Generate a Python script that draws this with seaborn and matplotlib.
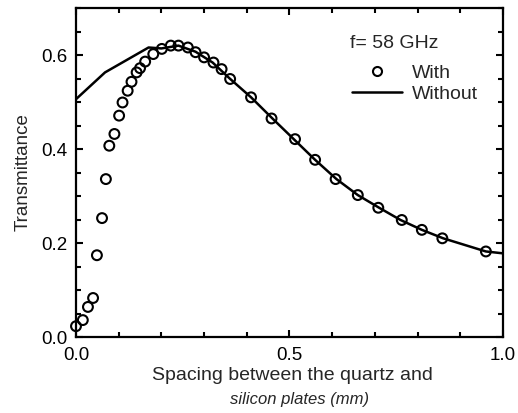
import numpy as np
import pandas as pd
import seaborn as sns
import matplotlib.pyplot as plt
from matplotlib.ticker import MultipleLocator
from matplotlib.lines import Line2D

# Data
with_x = [0.0, 0.016, 0.028, 0.04, 0.049, 0.061, 0.07, 0.078, 0.09, 0.101,
          0.109, 0.121, 0.13, 0.142, 0.15, 0.162, 0.181, 0.201, 0.222, 0.24,
          0.262, 0.28, 0.30, 0.322, 0.341, 0.361, 0.41, 0.458, 0.513, 0.56,
          0.608, 0.66, 0.708, 0.763, 0.81, 0.858, 0.96]
with_y = [0.023, 0.036, 0.064, 0.083, 0.174, 0.253, 0.336, 0.407, 0.432, 0.471,
          0.499, 0.524, 0.543, 0.563, 0.572, 0.586, 0.602, 0.613, 0.62, 0.62,
          0.616, 0.606, 0.595, 0.584, 0.57, 0.549, 0.51, 0.465, 0.421, 0.377,
          0.336, 0.302, 0.275, 0.249, 0.228, 0.21, 0.182]

without_x = [0.0, 0.068, 0.17, 0.20, 0.24, 0.28, 0.32, 0.36, 0.41, 0.46,
             0.51, 0.56, 0.61, 0.66, 0.71, 0.76, 0.81, 0.86, 0.96, 1.0]
without_y = [0.506, 0.563, 0.616, 0.614, 0.62, 0.607, 0.584, 0.55, 0.51, 0.465,
             0.421, 0.377, 0.336, 0.302, 0.275, 0.249, 0.228, 0.21, 0.182, 0.178]

df_with = pd.DataFrame({"x": with_x, "y": with_y})
df_without = pd.DataFrame({"x": without_x, "y": without_y})

sns.set_style("ticks")
plt.rcParams["font.family"] = ["Liberation Sans", "DejaVu Sans"]

fig = plt.figure(figsize=(5.18, 4.13), dpi=100)
ax = fig.add_axes([0.1467, 0.184, 0.8243, 0.7966])

sns.lineplot(data=df_without, x="x", y="y", ax=ax, color="black",
             linewidth=1.8, sort=False)
sns.scatterplot(data=df_with, x="x", y="y", ax=ax, marker="o",
                facecolor="none", edgecolor="black", linewidth=1.5, s=50,
                clip_on=False, zorder=3)

ax.set_xlim(0, 1.0)
ax.set_ylim(0, 0.7)
ax.xaxis.set_major_locator(MultipleLocator(0.5))
ax.xaxis.set_minor_locator(MultipleLocator(0.1))
ax.yaxis.set_major_locator(MultipleLocator(0.2))
ax.yaxis.set_minor_locator(MultipleLocator(0.05))
ax.xaxis.set_major_formatter(lambda v, p: f"{v:.1f}")
ax.yaxis.set_major_formatter(lambda v, p: f"{v:.1f}")

ax.tick_params(which="both", direction="in", top=True, right=True,
               width=1.5, colors="black", labelsize=13.5)
ax.tick_params(which="major", length=5)
ax.tick_params(which="minor", length=3.5)
ax.tick_params(axis="x", pad=7.5)
ax.tick_params(axis="y", pad=6)
for s in ax.spines.values():
    s.set_linewidth(1.6)
    s.set_color("black")

ax.set_xlabel("Spacing between the quartz and", fontsize=14)
ax.xaxis.set_label_coords(0.507, -0.09)
fig.text(0.579, 0.022, "silicon plates (mm)",
         fontsize=12, style="italic", ha="center", va="baseline")
ax.set_ylabel("Transmittance", fontsize=13.5)
ax.yaxis.set_label_coords(-0.103, 0.5)

ax.text(0.642, 0.891, "f= 58 GHz", transform=ax.transAxes, fontsize=14,
        ha="left", va="center")
handles = [
    Line2D([], [], marker="o", linestyle="none", markerfacecolor="none",
           markeredgecolor="black", markeredgewidth=1.5, markersize=6.5),
    Line2D([], [], color="black", linewidth=1.8),
]
ax.legend(handles, ["With", "Without"], loc="upper left",
          bbox_to_anchor=(0.646, 0.83), frameon=False, fontsize=14,
          handlelength=2.6, handletextpad=0.5, labelspacing=0.2,
          borderpad=0, borderaxespad=0)

plt.savefig("out.png", dpi=100)
